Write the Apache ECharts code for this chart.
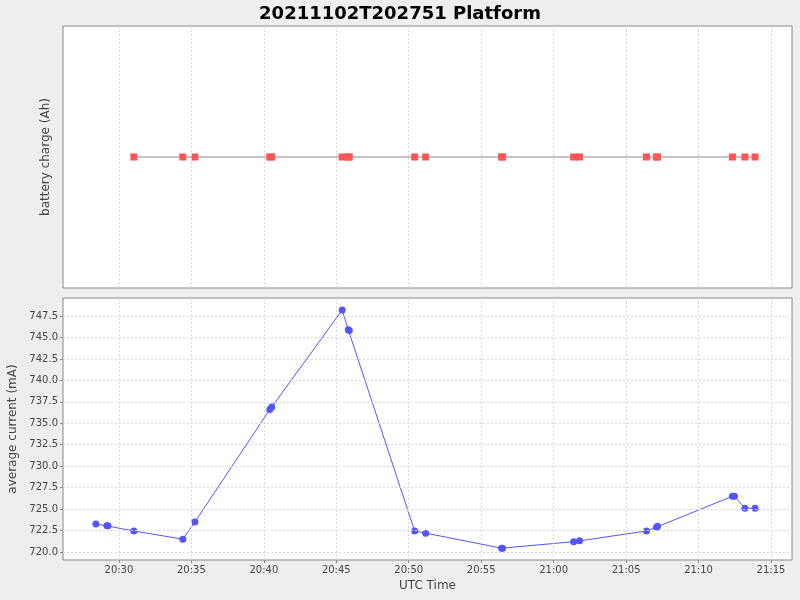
<!DOCTYPE html>
<html><head><meta charset="utf-8">
<script src="https://cdn.jsdelivr.net/npm/echarts@6/dist/echarts.min.js"></script>
<style>html,body{margin:0;padding:0;background:#eeeeee}#c{width:800px;height:600px}</style>
</head><body><div id="c"></div>
<script>
// time in minutes after 20:00 UTC
const currentTimes = [28.41,29.17,29.24,31.03,34.41,35.24,40.41,40.55,45.41,45.83,45.9,50.41,51.17,56.41,56.48,61.38,61.79,66.41,67.1,67.17,72.34,72.48,73.2,73.9];
const currentValues = [723.26,723.05,723.05,722.45,721.5,723.5,736.6,736.9,748.2,745.9,745.8,722.45,722.2,720.45,720.45,721.2,721.3,722.45,722.9,723.0,726.5,726.5,725.1,725.1];
const chargeTimes = [31.03,34.41,35.24,40.41,40.55,45.41,45.83,45.9,50.41,51.17,56.41,56.48,61.38,61.79,66.41,67.1,67.17,72.34,73.2,73.9];
const chargeValues = chargeTimes.map(() => 0);
const xTicks = [30,35,40,45,50,55,60,65,70,75];
const yTicks = [720,722.5,725,727.5,730,732.5,735,737.5,740,742.5,745,747.5];
const xMin = 26.14, xMax = 76.45, yMin = 719.07, yMax = 749.6;

function fmtTime(v){const h=20+Math.floor(v/60);const m=Math.round(v%60);return h+':'+String(m).padStart(2,'0');}
const gridStyle = {color:'#d8d8d8',type:[2,2],width:1};
const chart = echarts.init(document.getElementById('c'));
chart.setOption({
  backgroundColor:'#eeeeee',
  animation:false,
  title:{text:'20211102T202751 Platform',left:'center',top:0,textStyle:{fontFamily:'DejaVu Sans',fontWeight:'bold',fontSize:18,color:'#000'}},
  grid:[
    {left:63,right:8,top:26,height:262,backgroundColor:'#fff',show:true,borderColor:'#888',borderWidth:1,containLabel:false,outerBoundsMode:'none'},
    {left:63,right:8,top:298,height:262,backgroundColor:'#fff',show:true,borderColor:'#888',borderWidth:1,containLabel:false,outerBoundsMode:'none'}
  ],
  xAxis:[
    {type:'value',gridIndex:0,min:xMin,max:xMax,axisLine:{show:false},axisTick:{show:false},axisLabel:{show:false},splitLine:{show:false}},
    {type:'value',gridIndex:1,min:xMin,max:xMax,name:'UTC Time',nameLocation:'middle',nameGap:20,
     nameTextStyle:{fontFamily:'DejaVu Sans',fontSize:12,color:'#444'},
     axisLine:{show:false},axisTick:{show:true,customValues:xTicks,length:3,lineStyle:{color:'#888'}},
     axisLabel:{customValues:xTicks,formatter:fmtTime,fontFamily:'DejaVu Sans',fontSize:10,color:'#444',margin:5},splitLine:{show:false}}
  ],
  yAxis:[
    {type:'value',gridIndex:0,min:-1,max:1,name:'battery charge (Ah)',nameLocation:'middle',nameGap:11,
     nameTextStyle:{fontFamily:'DejaVu Sans',fontSize:12,color:'#444'},
     axisLine:{show:false},axisTick:{show:false},axisLabel:{show:false},splitLine:{show:false}},
    {type:'value',gridIndex:1,min:yMin,max:yMax,name:'average current (mA)',nameLocation:'middle',nameGap:11,
     nameTextStyle:{fontFamily:'DejaVu Sans',fontSize:12,color:'#444'},
     axisLine:{show:false},axisTick:{show:true,customValues:yTicks,length:3,lineStyle:{color:'#888'}},
     axisLabel:{customValues:yTicks,inside:false,formatter:v=>v.toFixed(1),fontFamily:'DejaVu Sans',fontSize:10,color:'#444',margin:5},splitLine:{show:false}}
  ],
  series:[
    {type:'line',xAxisIndex:0,yAxisIndex:0,data:chargeTimes.map((t,i)=>[t,chargeValues[i]]),
     symbol:'rect',symbolSize:7,itemStyle:{color:'#ff5555'},lineStyle:{color:'#888',width:1},
     markLine:{silent:true,symbol:'none',label:{show:false},lineStyle:gridStyle,data:xTicks.map(v=>({xAxis:v}))}},
    {type:'line',xAxisIndex:1,yAxisIndex:1,data:currentTimes.map((t,i)=>[t,currentValues[i]]),
     symbol:'circle',symbolSize:7,showAllSymbol:true,itemStyle:{color:'#5555ff'},lineStyle:{color:'#5555ff',width:1},
     markLine:{silent:true,symbol:'none',label:{show:false},lineStyle:gridStyle,
       data:xTicks.map(v=>({xAxis:v})).concat(yTicks.map(v=>({yAxis:v})))}}
  ]
});
</script></body></html>
